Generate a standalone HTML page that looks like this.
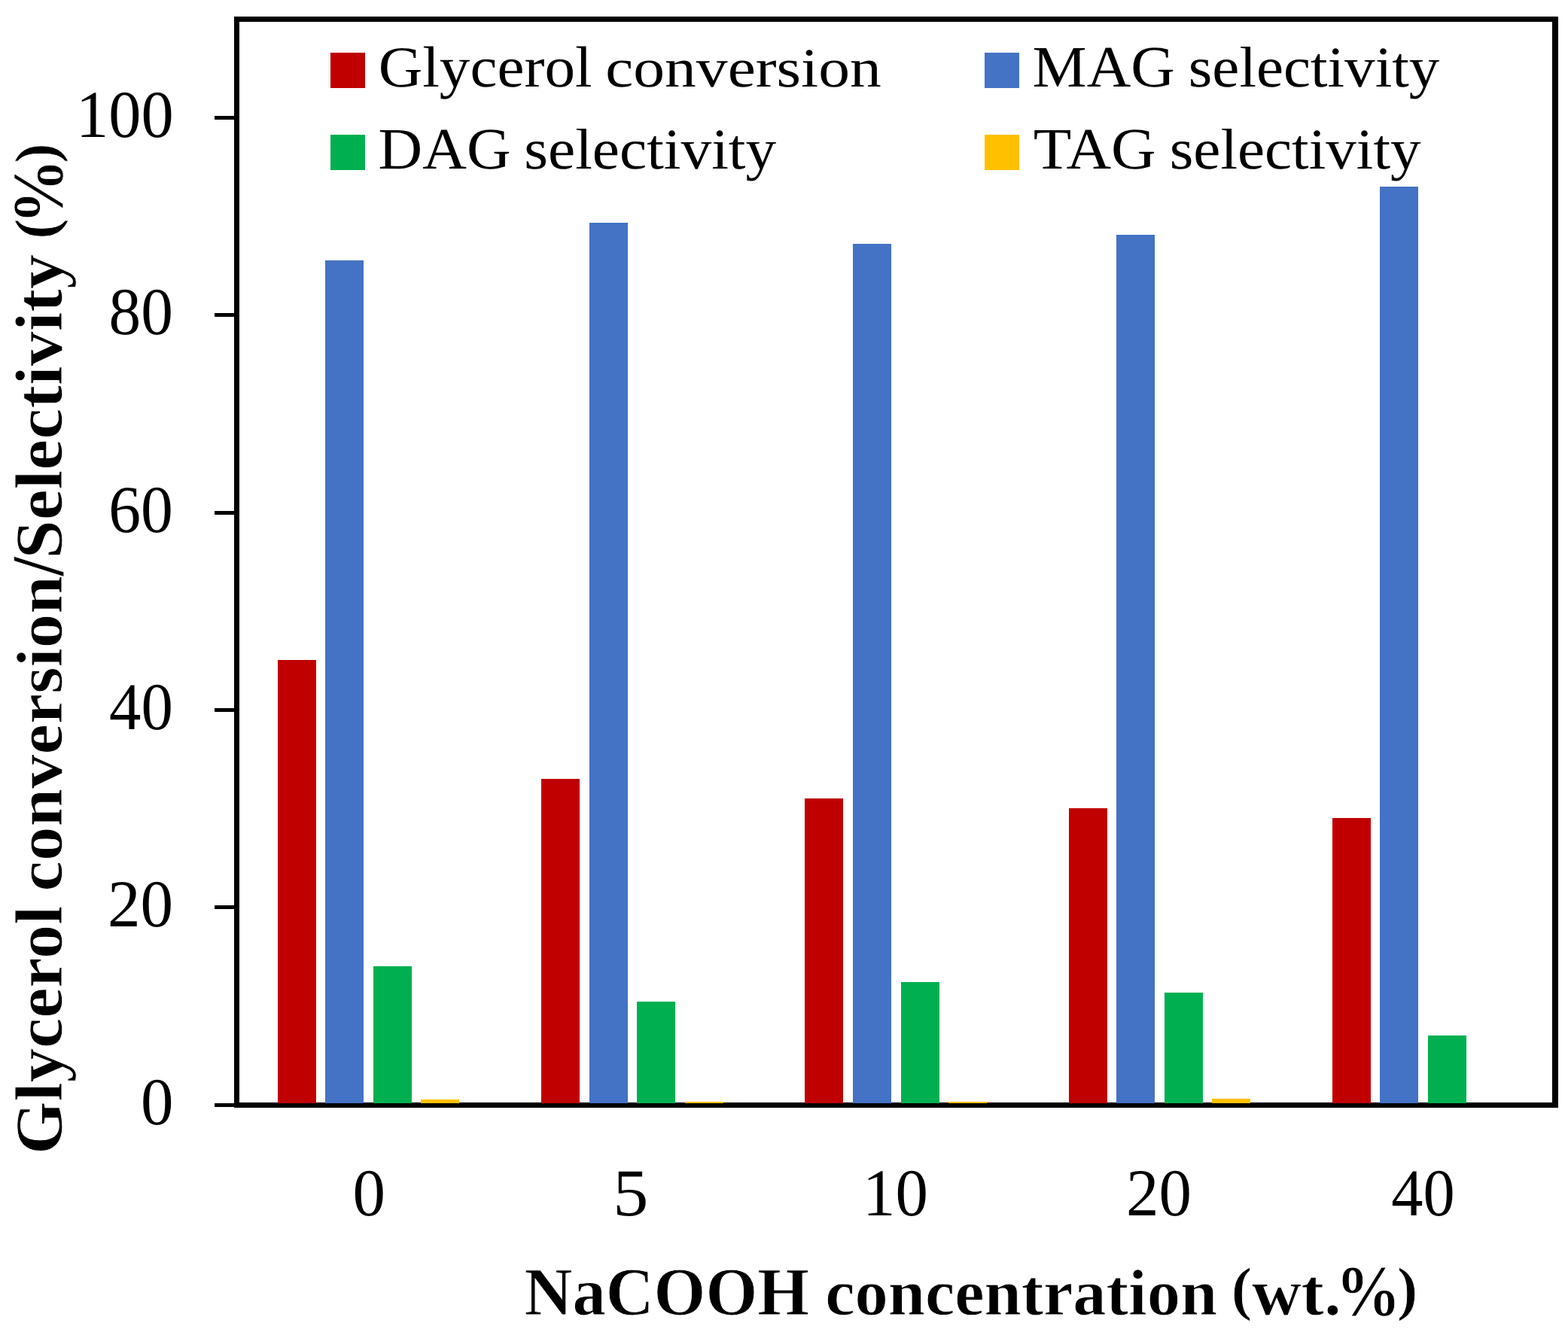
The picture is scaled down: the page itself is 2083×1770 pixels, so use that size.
<!DOCTYPE html>
<html lang="en">
<head>
<meta charset="utf-8">
<title>Glycerol conversion / selectivity vs NaCOOH concentration</title>
<style>
html,body{margin:0;padding:0;background:#ffffff;}
body{width:2083px;height:1770px;}
svg{display:block;}
text{font-family:"Liberation Serif",serif;fill:#000;white-space:pre;}
.b{font-weight:bold;stroke:#ffffff;stroke-width:0.9px;}
</style>
</head>
<body>
<svg width="2083" height="1770" viewBox="0 0 2083 1770" shape-rendering="crispEdges" text-rendering="geometricPrecision">
<rect x="0" y="0" width="2083" height="1770" fill="#ffffff"/>
<g id="frame" fill="#000">
<rect x="311" y="22" width="1759" height="7"/>
<rect x="311" y="22" width="7" height="1450"/>
<rect x="2062" y="22" width="8" height="1450"/>
<rect x="311" y="1465" width="1759" height="7"/>
<rect x="285" y="154" width="27" height="5"/>
<rect x="285" y="416" width="27" height="5"/>
<rect x="285" y="679" width="27" height="5"/>
<rect x="285" y="941" width="27" height="5"/>
<rect x="285" y="1203" width="27" height="5"/>
<rect x="285" y="1466" width="27" height="5"/>
</g>
<g id="bars">
<rect x="369" y="877" width="51" height="589" fill="#C00000"/>
<rect x="432" y="346" width="51" height="1120" fill="#4472C4"/>
<rect x="496" y="1284" width="51" height="182" fill="#00B050"/>
<rect x="559" y="1461" width="51" height="5" fill="#FFC000"/>
<rect x="719" y="1035" width="51" height="431" fill="#C00000"/>
<rect x="783" y="296" width="51" height="1170" fill="#4472C4"/>
<rect x="846" y="1331" width="51" height="135" fill="#00B050"/>
<rect x="910" y="1464" width="51" height="2" fill="#FFC000"/>
<rect x="1069" y="1061" width="51" height="405" fill="#C00000"/>
<rect x="1133" y="324" width="51" height="1142" fill="#4472C4"/>
<rect x="1197" y="1305" width="51" height="161" fill="#00B050"/>
<rect x="1260" y="1464" width="51" height="2" fill="#FFC000"/>
<rect x="1420" y="1074" width="51" height="392" fill="#C00000"/>
<rect x="1483" y="312" width="51" height="1154" fill="#4472C4"/>
<rect x="1547" y="1319" width="51" height="147" fill="#00B050"/>
<rect x="1610" y="1460" width="51" height="6" fill="#FFC000"/>
<rect x="1770" y="1087" width="51" height="379" fill="#C00000"/>
<rect x="1833" y="248" width="51" height="1218" fill="#4472C4"/>
<rect x="1897" y="1376" width="51" height="90" fill="#00B050"/>
</g>
<g id="legend-keys">
<rect x="439" y="70" width="46" height="47" fill="#C00000"/>
<rect x="1308" y="70" width="46" height="47" fill="#4472C4"/>
<rect x="439" y="179" width="46" height="47" fill="#00B050"/>
<rect x="1308" y="179" width="46" height="47" fill="#FFC000"/>
</g>
<g id="legend-labels">
<text font-size="77" transform="matrix(1.0533 0 0 1.0000 502.76 115.00)">Glycerol</text>
<text font-size="73.5" transform="matrix(1.1365 0 0 1.0000 804.26 115.00)">conversion</text>
<text font-size="78" transform="matrix(1.0392 0 0 1.0000 1371.57 115.00)">MAG</text>
<text font-size="76.5" transform="matrix(1.0612 0 0 1.0000 1578.75 115.00)">selectivity</text>
<text font-size="78" transform="matrix(1.0415 0 0 1.0000 502.56 224.00)">DAG</text>
<text font-size="76.5" transform="matrix(1.0654 0 0 1.0000 696.24 224.00)">selectivity</text>
<text font-size="78" transform="matrix(1.0583 0 0 1.0000 1372.65 224.00)">TAG</text>
<text font-size="76.5" transform="matrix(1.0618 0 0 1.0000 1553.75 224.00)">selectivity</text>
</g>
<g id="y-ticks">
<text font-size="89" transform="matrix(0.9710 0 0 1.0000 101.02 181.80)">100</text>
<text font-size="89" transform="matrix(0.9587 0 0 1.0000 144.59 444.20)">80</text>
<text font-size="89" transform="matrix(0.9627 0 0 1.0000 144.24 706.60)">60</text>
<text font-size="89" transform="matrix(0.9527 0 0 1.0000 145.10 969.00)">40</text>
<text font-size="89" transform="matrix(0.9787 0 0 1.0000 142.88 1231.40)">20</text>
<text font-size="89" transform="matrix(0.9765 0 0 1.0000 186.92 1493.80)">0</text>
</g>
<g id="x-ticks">
<text font-size="89" transform="matrix(0.9765 0 0 1.0000 468.52 1615.20)">0</text>
<text font-size="89" transform="matrix(1.0590 0 0 1.0000 814.35 1615.20)">5</text>
<text font-size="89" transform="matrix(0.9764 0 0 1.0000 1146.08 1615.20)">10</text>
<text font-size="89" transform="matrix(0.9762 0 0 1.0000 1496.09 1615.20)">20</text>
<text font-size="89" transform="matrix(0.9479 0 0 1.0000 1848.31 1615.20)">40</text>
</g>
<g id="x-title">
<text class="b" font-size="89" transform="matrix(0.9940 0 0 1.0154 696.58 1746.95)">NaCOOH</text>
<text class="b" font-size="85.5" transform="matrix(1.0349 0 0 1.0161 1096.15 1746.95)">concentration</text>
<text class="b" font-size="89" transform="matrix(0.9209 0 0 0.8864 1635.86 1738.98)">(</text><text class="b" font-size="87" transform="matrix(1.0459 0 0 1.0158 1662.90 1747.25)">wt.</text><text class="b" font-size="89" transform="matrix(0.9733 0 0 1.0803 1774.35 1748.01)">%</text><text class="b" font-size="89" transform="matrix(0.9205 0 0 0.8864 1856.09 1738.98)">)</text>
</g>
<g id="y-title">
<text class="b" font-size="88" transform="matrix(0 -1.0294 1.0156 0 81.75 1533.98)">Glycerol</text>
<text class="b" font-size="85.5" transform="matrix(0 -1.0637 1.0161 0 81.75 1184.43)">conversion</text><text class="b" font-size="89" transform="matrix(0 -1.0322 1.1219 0 83.65 765.53)">/</text><text class="b" font-size="88" transform="matrix(0 -1.0481 1.0156 0 81.75 742.52)">Selectivity</text>
<text class="b" font-size="89" transform="matrix(0 -0.9209 0.8851 0 73.91 317.84)">(</text><text class="b" font-size="89" transform="matrix(0 -0.9733 1.0836 0 83.20 297.85)">%</text><text class="b" font-size="89" transform="matrix(0 -0.8946 0.8851 0 73.91 216.74)">)</text>
</g>
</svg>
</body>
</html>
